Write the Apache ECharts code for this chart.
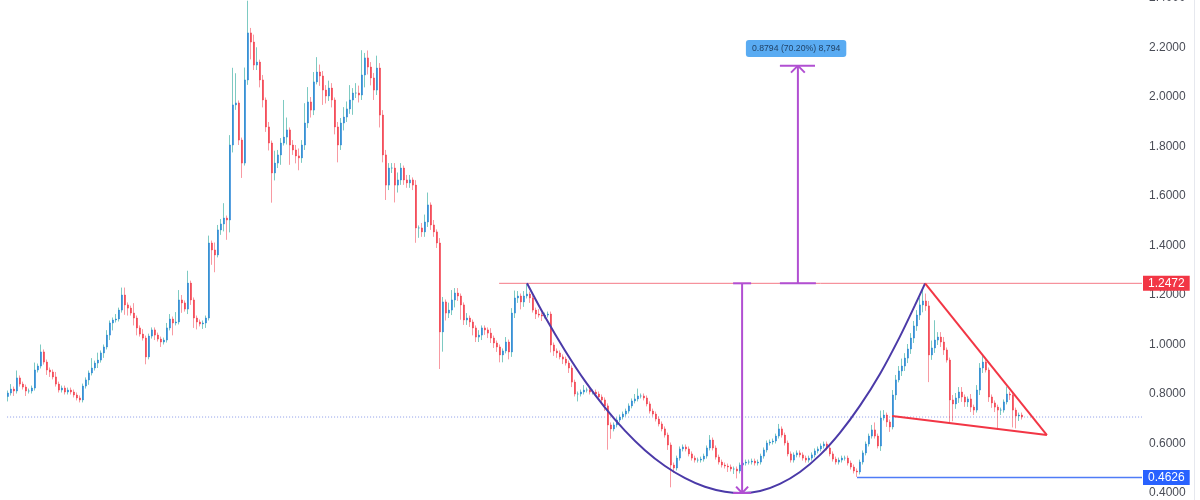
<!DOCTYPE html>
<html><head><meta charset="utf-8">
<script src="https://cdn.jsdelivr.net/npm/echarts@6/dist/echarts.min.js"></script>
<style>html,body{margin:0;padding:0;background:#fff}#c{width:1200px;height:500px}</style>
</head><body><div id="c"></div>
<script>
// ---- data (price per candle) ----
const firstOpen = 0.79;
const closes = [
0.804,0.820,0.812,0.865,0.840,0.828,0.812,0.812,0.824,0.897,
0.913,0.970,0.929,0.897,0.889,0.869,0.840,0.816,0.824,0.808,
0.816,0.808,0.796,0.784,0.776,0.832,0.857,0.885,0.905,0.925,
0.937,0.966,0.990,1.038,1.087,1.099,1.103,1.139,1.200,1.160,
1.147,1.127,1.107,1.067,1.042,1.026,0.950,1.034,1.059,1.038,
1.022,1.010,1.018,1.067,1.103,1.087,1.091,1.180,1.168,1.143,
1.248,1.180,1.107,1.091,1.083,1.087,1.107,1.410,1.382,1.362,
1.463,1.487,1.511,1.503,1.806,1.968,1.976,1.826,1.733,2.069,
2.259,2.222,2.129,2.141,2.069,1.988,1.879,1.814,1.693,1.733,
1.766,1.814,1.838,1.867,1.806,1.786,1.762,1.754,1.806,1.895,
1.980,1.947,2.061,2.101,2.085,2.028,2.004,2.036,1.988,1.879,
1.806,1.895,1.919,1.952,1.988,2.016,2.016,2.008,2.089,2.158,
2.121,2.077,2.028,2.117,1.927,1.766,1.644,1.713,1.713,1.644,
1.665,1.713,1.665,1.653,1.665,1.644,1.471,1.471,1.455,1.495,
1.564,1.483,1.455,1.410,1.051,1.172,1.127,1.139,1.180,1.208,
1.196,1.160,1.099,1.107,1.091,1.067,1.030,1.038,1.067,1.059,
1.046,1.026,1.006,0.990,0.958,0.974,1.010,0.970,1.127,1.188,
1.196,1.172,1.196,1.204,1.188,1.139,1.123,1.119,1.115,1.119,
1.123,0.998,0.974,0.966,0.950,0.941,0.925,0.905,0.848,0.800,
0.800,0.808,0.816,0.816,0.808,0.808,0.800,0.788,0.776,0.752,
0.675,0.659,0.675,0.695,0.707,0.719,0.731,0.752,0.772,0.780,
0.792,0.792,0.784,0.760,0.731,0.719,0.699,0.679,0.659,0.634,
0.594,0.513,0.501,0.541,0.578,0.586,0.578,0.558,0.541,0.533,
0.533,0.537,0.549,0.582,0.614,0.582,0.545,0.525,0.513,0.509,
0.505,0.497,0.497,0.489,0.513,0.521,0.525,0.525,0.529,0.521,
0.525,0.549,0.574,0.602,0.606,0.610,0.630,0.659,0.634,0.602,
0.558,0.533,0.554,0.562,0.554,0.541,0.533,0.541,0.554,0.570,
0.578,0.590,0.598,0.582,0.558,0.537,0.525,0.533,0.541,0.541,
0.521,0.505,0.489,0.485,0.525,0.562,0.598,0.630,0.655,0.630,
0.590,0.703,0.715,0.687,0.667,0.796,0.857,0.893,0.913,0.945,
0.982,1.026,1.075,1.119,1.160,1.176,1.156,0.958,0.986,1.018,
1.030,1.010,0.978,0.937,0.776,0.760,0.784,0.808,0.788,0.768,
0.780,0.747,0.735,0.816,0.905,0.929,0.897,0.788,0.764,0.747,
0.735,0.735,0.768,0.800,0.796,0.735,0.711,0.715,0.707
];
// upper wick length above the body (price units)
const wickHi = [
0.01,0.02,0.01,0.03,0.01,0.01,0.01,0.01,0.01,0.03,
0.01,0.03,0.01,0.01,0.01,0.01,0.02,0.01,0.01,0.01,
0.01,0.01,0.01,0.01,0.01,0.01,0.01,0.01,0.04,0.01,
0.03,0.01,0.01,0.02,0.01,0.01,0.02,0.01,0.03,0.03,
0.01,0.01,0.04,0.01,0.01,0.02,0.01,0.01,0.01,0.01,
0.01,0.01,0.01,0.02,0.02,0.01,0.04,0.04,0.02,0.01,
0.05,0.01,0.01,0.01,0.01,0.01,0.01,0.03,0.01,0.03,
0.02,0.02,0.06,0.01,0.04,0.15,0.12,0.01,0.01,0.05,
0.13,0.02,0.03,0.06,0.01,0.02,0.01,0.02,0.01,0.05,
0.02,0.02,0.15,0.05,0.01,0.02,0.02,0.03,0.02,0.08,
0.06,0.02,0.04,0.06,0.03,0.02,0.02,0.03,0.02,0.01,
0.02,0.02,0.04,0.03,0.06,0.02,0.04,0.03,0.10,0.02,
0.03,0.02,0.02,0.05,0.02,0.02,0.02,0.02,0.02,0.02,
0.03,0.02,0.01,0.02,0.02,0.01,0.02,0.01,0.02,0.03,
0.05,0.01,0.02,0.01,0.02,0.02,0.01,0.03,0.04,0.02,
0.02,0.01,0.01,0.02,0.01,0.01,0.01,0.02,0.01,0.01,
0.01,0.02,0.01,0.01,0.01,0.01,0.02,0.01,0.02,0.03,
0.02,0.01,0.02,0.04,0.01,0.01,0.01,0.02,0.01,0.01,
0.01,0.01,0.01,0.01,0.01,0.01,0.01,0.01,0.01,0.01,
0.01,0.01,0.02,0.01,0.01,0.01,0.01,0.01,0.01,0.01,
0.01,0.01,0.01,0.01,0.01,0.01,0.01,0.01,0.01,0.02,
0.03,0.01,0.01,0.01,0.01,0.01,0.01,0.01,0.01,0.01,
0.01,0.01,0.01,0.01,0.01,0.01,0.01,0.01,0.01,0.01,
0.01,0.01,0.01,0.01,0.02,0.01,0.01,0.01,0.01,0.01,
0.01,0.01,0.01,0.01,0.01,0.01,0.01,0.01,0.01,0.01,
0.01,0.01,0.01,0.01,0.01,0.01,0.01,0.02,0.01,0.01,
0.01,0.01,0.01,0.01,0.01,0.01,0.01,0.01,0.01,0.01,
0.01,0.01,0.01,0.01,0.01,0.01,0.01,0.01,0.01,0.01,
0.01,0.01,0.01,0.01,0.01,0.01,0.01,0.01,0.02,0.03,
0.01,0.03,0.02,0.01,0.01,0.02,0.02,0.02,0.03,0.02,
0.02,0.02,0.02,0.02,0.03,0.05,0.03,0.02,0.03,0.08,
0.02,0.02,0.02,0.01,0.01,0.02,0.02,0.02,0.02,0.01,
0.01,0.02,0.01,0.02,0.02,0.03,0.01,0.01,0.01,0.01,
0.01,0.01,0.01,0.03,0.01,0.01,0.01,0.01,0.01
];
// lower wick length below the body (price units)
const wickLo = [
0.02,0.01,0.02,0.01,0.01,0.01,0.02,0.01,0.01,0.01,
0.01,0.01,0.01,0.02,0.02,0.01,0.01,0.01,0.01,0.01,
0.01,0.01,0.01,0.01,0.01,0.01,0.01,0.02,0.01,0.01,
0.02,0.01,0.02,0.01,0.02,0.03,0.01,0.01,0.01,0.04,
0.03,0.01,0.03,0.03,0.01,0.01,0.03,0.01,0.01,0.02,
0.01,0.02,0.01,0.01,0.01,0.05,0.01,0.01,0.04,0.01,
0.02,0.02,0.04,0.03,0.01,0.02,0.02,0.01,0.06,0.07,
0.01,0.02,0.03,0.08,0.05,0.03,0.02,0.02,0.06,0.01,
0.02,0.07,0.02,0.02,0.03,0.03,0.02,0.03,0.12,0.03,
0.02,0.04,0.01,0.03,0.08,0.02,0.03,0.05,0.02,0.02,
0.02,0.03,0.02,0.01,0.04,0.06,0.03,0.02,0.03,0.03,
0.07,0.02,0.03,0.02,0.02,0.06,0.02,0.03,0.02,0.05,
0.03,0.03,0.04,0.02,0.05,0.03,0.06,0.02,0.02,0.07,
0.03,0.02,0.02,0.02,0.02,0.02,0.06,0.04,0.02,0.02,
0.02,0.02,0.02,0.02,0.15,0.08,0.03,0.02,0.02,0.03,
0.02,0.06,0.02,0.02,0.02,0.03,0.02,0.02,0.02,0.02,
0.02,0.02,0.02,0.02,0.03,0.03,0.01,0.03,0.02,0.02,
0.02,0.03,0.02,0.01,0.02,0.01,0.02,0.01,0.02,0.01,
0.01,0.03,0.02,0.02,0.01,0.02,0.01,0.02,0.02,0.01,
0.03,0.01,0.01,0.01,0.01,0.01,0.01,0.01,0.01,0.02,
0.10,0.04,0.01,0.01,0.01,0.01,0.01,0.01,0.01,0.01,
0.01,0.01,0.01,0.01,0.01,0.01,0.01,0.01,0.01,0.01,
0.02,0.09,0.02,0.01,0.01,0.01,0.01,0.01,0.01,0.01,
0.01,0.01,0.01,0.01,0.01,0.01,0.01,0.01,0.01,0.01,
0.02,0.01,0.02,0.03,0.01,0.01,0.01,0.01,0.01,0.01,
0.01,0.01,0.01,0.01,0.01,0.01,0.01,0.01,0.01,0.01,
0.01,0.01,0.01,0.01,0.01,0.01,0.01,0.01,0.01,0.01,
0.01,0.01,0.01,0.01,0.01,0.01,0.01,0.01,0.01,0.01,
0.01,0.01,0.01,0.02,0.01,0.01,0.01,0.01,0.01,0.01,
0.01,0.02,0.01,0.02,0.02,0.01,0.02,0.01,0.02,0.02,
0.02,0.02,0.02,0.02,0.02,0.03,0.02,0.11,0.02,0.02,
0.02,0.02,0.02,0.01,0.09,0.07,0.02,0.02,0.02,0.02,
0.02,0.02,0.02,0.01,0.02,0.02,0.01,0.02,0.02,0.02,
0.08,0.02,0.01,0.01,0.02,0.07,0.05,0.02,0.01
];
// price levels and annotation values
const lastPrice = 0.707;
const resistance = 1.2472;
const support = 0.4626;
const cupBottom = 0.40;
const targetTop = 2.1266;
const measureLabel = '0.8794 (70.20%) 8,794';
const yMin = 0.4, yMax = 2.4, yStep = 0.2;
// drawings, in (candle index, price)
const cupCurve = [[173,1.2472],[179,1.112],[185.7,0.975],[192.3,0.853],[199,0.745],[205.7,0.651],[212.3,0.573],[219,0.509],[225.7,0.460],[232.3,0.425],[239,0.405],[244.7,0.40],[250.7,0.408],[257.3,0.437],[264,0.485],[270.7,0.554],[277.3,0.643],[284,0.753],[290.7,0.882],[297.3,1.032],[302.3,1.158],[305.7,1.2472]];
const triUpper = [[305.7,1.2472],[346.3,0.634]];
const triLower = [[294.7,0.711],[346.3,0.634]];
const resistanceStart = 163.7, supportStart = 283, dottedStart = -0.3;
const measure1X = 244.7, measure2X = 263.3;
const labelPos = [262.7, 2.196];

const xMin = -2.667, xMax = 378;

const ohlc = closes.map((c, i) => {
  const o = i === 0 ? firstOpen : closes[i - 1];
  const hi = Math.max(o, c) + wickHi[i];
  const lo = Math.min(o, c) - wickLo[i];
  return [i, o, c, lo, hi];
});
const bodies = ohlc.map(d => [d[0], d[1], d[2], Math.min(d[1], d[2]), Math.max(d[1], d[2])]);

function seg(pts, color, width, extra) {
  return Object.assign({
    type: 'line', data: pts, symbol: 'none', clip: false, silent: true,
    animation: false, z: 5,
    lineStyle: { color: color, width: width }
  }, extra || {});
}
const purple = '#b14fd2';
const red = '#f23645';
const font = 'Liberation Sans, Arial, sans-serif';

const chart = echarts.init(document.getElementById('c'));
chart.setOption({
  animation: false,
  backgroundColor: '#ffffff',
  grid: { left: 0, right: 58, top: -2, bottom: 7, containLabel: false, outerBoundsMode: 'none' },
  xAxis: { type: 'value', min: xMin, max: xMax, show: false },
  yAxis: {
    type: 'value', position: 'right', min: yMin, max: yMax, interval: yStep,
    axisLine: { show: false }, axisTick: { show: false }, splitLine: { show: false },
    axisLabel: { margin: 7, color: '#4a4d57', fontSize: 12, fontFamily: font,
      formatter: v => v.toFixed(4) }
  },
  graphic: [{ type: 'line', shape: { x1: 1194.5, y1: 0, x2: 1194.5, y2: 500 }, style: { stroke: '#e6e8ee', lineWidth: 1 }, silent: true }],
  series: [
    {
      type: 'candlestick', data: ohlc, encode: { x: 0, y: [1, 2, 3, 4] },
      barWidth: 0.1, silent: true, z: 2,
      itemStyle: { color: 'rgba(38,166,154,0.6)', color0: 'rgba(242,54,69,0.5)',
        borderColor: 'rgba(38,166,154,0.6)', borderColor0: 'rgba(242,54,69,0.5)', borderWidth: 1 }
    },
    {
      type: 'candlestick', data: bodies, encode: { x: 0, y: [1, 2, 3, 4] },
      barWidth: 2, silent: true, z: 3,
      itemStyle: { color: '#2181d6', color0: '#f23645', borderColor: '#2181d6', borderColor0: '#f23645', borderWidth: 0.5 }
    },
    seg([[dottedStart, lastPrice], [xMax, lastPrice]], '#8a9ae8', 1, { lineStyle: { color: '#8a9ae8', width: 1, type: [1, 2] }, z: 1 }),
    seg([[resistanceStart, resistance], [xMax, resistance]], '#f47a86', 1, {
      endLabel: { show: true, formatter: () => resistance.toFixed(4), backgroundColor: '#f23645', color: '#fff',
        padding: [2, 5, 1, 5], distance: 1, fontSize: 12, fontFamily: font } }),
    seg([[supportStart, support], [xMax, support]], '#4f7cf7', 1.5, {
      endLabel: { show: true, formatter: () => support.toFixed(4), backgroundColor: '#2962ff', color: '#fff',
        padding: [2, 5, 1, 5], distance: 1, fontSize: 12, fontFamily: font } }),
    seg(cupCurve, '#4b3aa8', 2, { smooth: 0.3 }),
    seg(triUpper, red, 2),
    seg(triLower, red, 2),
    // measure 1: resistance down to cup bottom
    seg([[measure1X, resistance], [measure1X, cupBottom]], purple, 2),
    seg([[measure1X - 3, resistance], [measure1X + 3, resistance]], purple, 2),
    seg([[measure1X - 3, cupBottom], [measure1X + 3, cupBottom]], purple, 2),
    seg([[measure1X - 2, cupBottom + 0.026], [measure1X, cupBottom], [measure1X + 2, cupBottom + 0.026]], purple, 2),
    // measure 2: projected target
    seg([[measure2X, resistance], [measure2X, targetTop]], purple, 2),
    seg([[measure2X - 6, resistance], [measure2X + 6, resistance]], purple, 2),
    seg([[measure2X - 6, targetTop], [measure2X + 5.7, targetTop]], purple, 2),
    seg([[measure2X - 2.3, targetTop - 0.028], [measure2X, targetTop], [measure2X + 2.3, targetTop - 0.028]], purple, 2),
    {
      type: 'scatter', data: [labelPos], symbolSize: 1, silent: true, z: 10,
      itemStyle: { color: 'rgba(0,0,0,0)' },
      label: { show: true, position: 'inside', formatter: () => measureLabel, color: '#10233d',
        backgroundColor: '#2f96ef', padding: [4, 6, 4, 6], borderRadius: 3, fontSize: 8.7,
        fontFamily: font }
    }
  ]
});
</script></body></html>
